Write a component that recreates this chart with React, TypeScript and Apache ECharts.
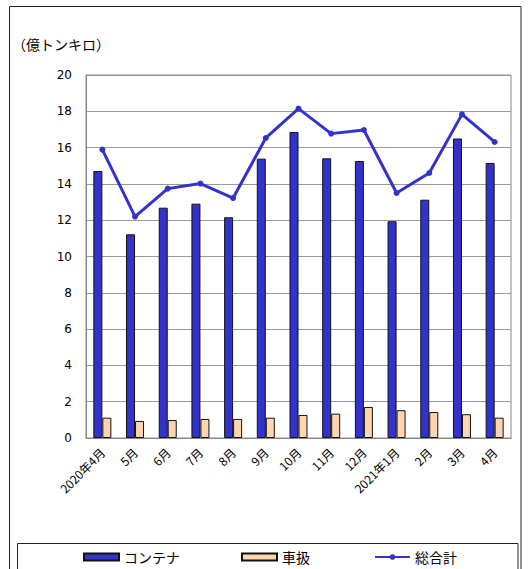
import React, { useEffect, useRef } from "react";
import * as echarts from "echarts";

const categories = ["2020年4月", "5月", "6月", "7月", "8月", "9月", "10月", "11月", "12月", "2021年1月", "2月", "3月", "4月"];
const containerValues = [14.71, 11.22, 12.69, 12.91, 12.16, 15.39, 16.86, 15.41, 15.26, 11.94, 13.13, 16.5, 15.15];
const carloadValues = [1.12, 0.94, 0.99, 1.05, 1.05, 1.12, 1.27, 1.34, 1.71, 1.53, 1.43, 1.31, 1.12];
const totalValues = [15.89, 12.2, 13.74, 14.02, 13.22, 16.53, 18.15, 16.77, 16.97, 13.5, 14.6, 17.83, 16.31];
const seriesNames = ["コンテナ", "車扱", "総合計"];
const unitLabel = "（億トンキロ）";

const FONT = "'Noto Sans CJK JP', 'DejaVu Sans', sans-serif";

export default function App() {
  const ref = useRef<HTMLDivElement>(null);
  useEffect(() => {
    if (!ref.current) return;
    const chart = echarts.init(ref.current, null, { renderer: "svg" });
    const legendBase = {
      top: 545,
      itemWidth: 35,
      itemHeight: 7,
      textStyle: { fontSize: 14, color: "#000000", fontFamily: FONT },
    };
    chart.setOption({
      animation: false,
      backgroundColor: "#ffffff",
      textStyle: { fontFamily: FONT },
      grid: { left: 86, right: 19, top: 75, bottom: 131, show: true, borderColor: "#888888", borderWidth: 1 },
      graphic: [
        { type: "rect", shape: { x: 9.5, y: 6.5, width: 511.5, height: 600 }, style: { fill: "none", stroke: "#222222", lineWidth: 1 }, silent: true },
        { type: "rect", shape: { x: 17.5, y: 543.5, width: 500.5, height: 60 }, style: { fill: "none", stroke: "#222222", lineWidth: 1 }, silent: true },
        { type: "text", left: 12, top: 37, style: { text: unitLabel, font: `14px ${FONT}`, fill: "#000000" } },
      ],
      legend: [
        { ...legendBase, left: 78, data: [{ name: seriesNames[0], icon: "rect" }] },
        { ...legendBase, left: 236, data: [{ name: seriesNames[1], icon: "rect" }] },
        { ...legendBase, left: 369, data: [{ name: seriesNames[2] }] },
      ],
      xAxis: {
        type: "category",
        data: categories,
        axisLine: { lineStyle: { color: "#888888" } },
        axisTick: { show: false },
        axisLabel: { rotate: 45, fontSize: 12, color: "#000000", margin: 12, interval: 0, fontFamily: FONT },
      },
      yAxis: {
        type: "value",
        min: 0,
        max: 20,
        interval: 2,
        axisLine: { show: true, lineStyle: { color: "#888888" } },
        axisTick: { show: false },
        axisLabel: { fontSize: 12, color: "#000000", margin: 14, fontFamily: "'DejaVu Sans', sans-serif" },
        splitLine: { lineStyle: { color: "#999999", width: 1 } },
      },
      series: [
        {
          name: seriesNames[0],
          type: "bar",
          data: containerValues,
          barWidth: 9,
          barGap: "0%",
          itemStyle: { color: "#3333CC", borderColor: "#111111", borderWidth: 1 },
        },
        {
          name: seriesNames[1],
          type: "bar",
          data: carloadValues,
          barWidth: 9,
          barGap: "0%",
          itemStyle: { color: "#FFD5B0", borderColor: "#111111", borderWidth: 1 },
        },
        {
          name: seriesNames[2],
          type: "line",
          data: totalValues,
          symbol: "circle",
          symbolSize: 6,
          lineStyle: { color: "#3333CC", width: 3 },
          itemStyle: { color: "#3333CC" },
        },
      ],
    });
    return () => chart.dispose();
  }, []);
  return <div ref={ref} style={{ position: "fixed", left: 0, top: 0, width: 530, height: 569 }} />;
}
